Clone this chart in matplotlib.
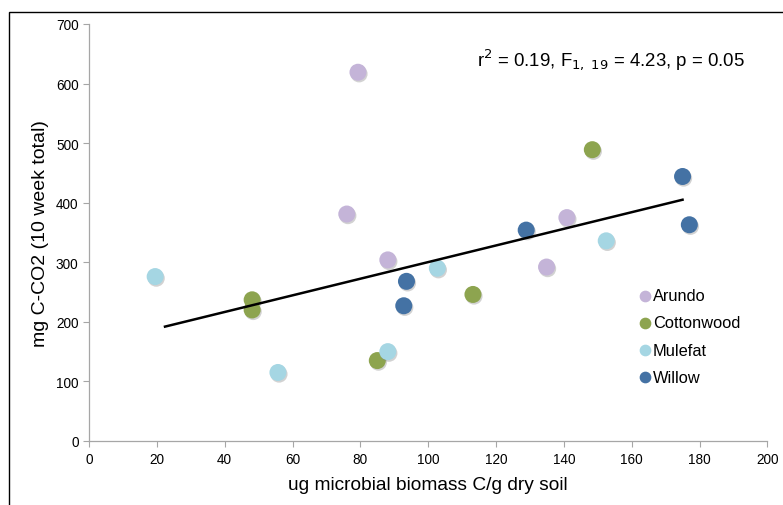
import matplotlib
matplotlib.use("Agg")
import matplotlib.pyplot as plt
import matplotlib.patheffects as pe
from matplotlib.patches import Rectangle
import numpy as np

plt.rcParams['font.family'] = ['Liberation Sans', 'DejaVu Sans']

species = ["Arundo", "Cottonwood", "Mulefat", "Willow"]
colors = ["#c4b4d8", "#8da44f", "#a5d6e3", "#4472a4"]

arundo_x = [79.3, 76.0, 88.1, 140.9, 134.9]
arundo_y = [619, 381, 304, 375, 292]
cottonwood_x = [148.4, 48.1, 48.1, 113.2, 85.0]
cottonwood_y = [489, 237, 220, 246, 135]
mulefat_x = [19.5, 55.7, 88.1, 102.7, 152.5]
mulefat_y = [276, 115, 150, 290, 336]
willow_x = [175.0, 177.0, 128.9, 93.6, 92.8]
willow_y = [444, 363, 354, 268, 227]

trend_x = [22.4, 175.0]
trend_y = [192, 405]

xs = [arundo_x, cottonwood_x, mulefat_x, willow_x]
ys = [arundo_y, cottonwood_y, mulefat_y, willow_y]

fig = plt.figure(figsize=(7.83, 5.06), dpi=100)
ax = fig.add_axes([0.1137, 0.1265, 0.980 - 0.1137, 0.9506 - 0.1265])

# figure frame (cut at right/bottom)
fig.patches.append(Rectangle((8.5 / 783, -0.1), 1.2, 1 - 12.5 / 506 + 0.1,
                             transform=fig.transFigure, fill=False,
                             edgecolor="black", linewidth=1.0, clip_on=False))

shadow = [pe.SimplePatchShadow(offset=(0.8, -1.2), shadow_rgbFace="#808080", alpha=0.35), pe.Normal()]
for name, c, x, y in zip(species, colors, xs, ys):
    ax.scatter(x, y, s=150, color=c, edgecolors="none", zorder=3,
               path_effects=shadow)
    ax.scatter([], [], s=55, color=c, label=name)

ax.plot(trend_x, trend_y, color="black", linewidth=1.8, zorder=4)

ax.set_xlim(0, 200)
ax.set_ylim(0, 700)
ax.set_xticks(np.arange(0, 201, 20))
ax.set_yticks(np.arange(0, 701, 100))
for s in ["top", "right"]:
    ax.spines[s].set_visible(False)
for s in ["left", "bottom"]:
    ax.spines[s].set_color("#a6a6a6")
    ax.spines[s].set_linewidth(0.9)
ax.tick_params(axis="both", colors="#a6a6a6", labelcolor="black", labelsize=9.8,
               length=4, width=0.8, direction="out")
ax.tick_params(axis="x", pad=4)

ax.set_xlabel("ug microbial biomass C/g dry soil", fontsize=13.8, labelpad=7)
ax.set_ylabel("mg C-CO2 (10 week total)", fontsize=14, labelpad=5)

ax.text(0.967, 0.915, r"r$^2$ = 0.19, F$_{1,\ 19}$ = 4.23, p = 0.05",
        transform=ax.transAxes, ha="right", va="center", fontsize=13.4)

leg = ax.legend(loc="upper left", bbox_to_anchor=(0.795, 0.382), frameon=False,
                fontsize=11.8, handletextpad=-0.1, labelspacing=0.74,
                borderaxespad=0, handlelength=1.2)

fig.savefig("out.png", dpi=100)
